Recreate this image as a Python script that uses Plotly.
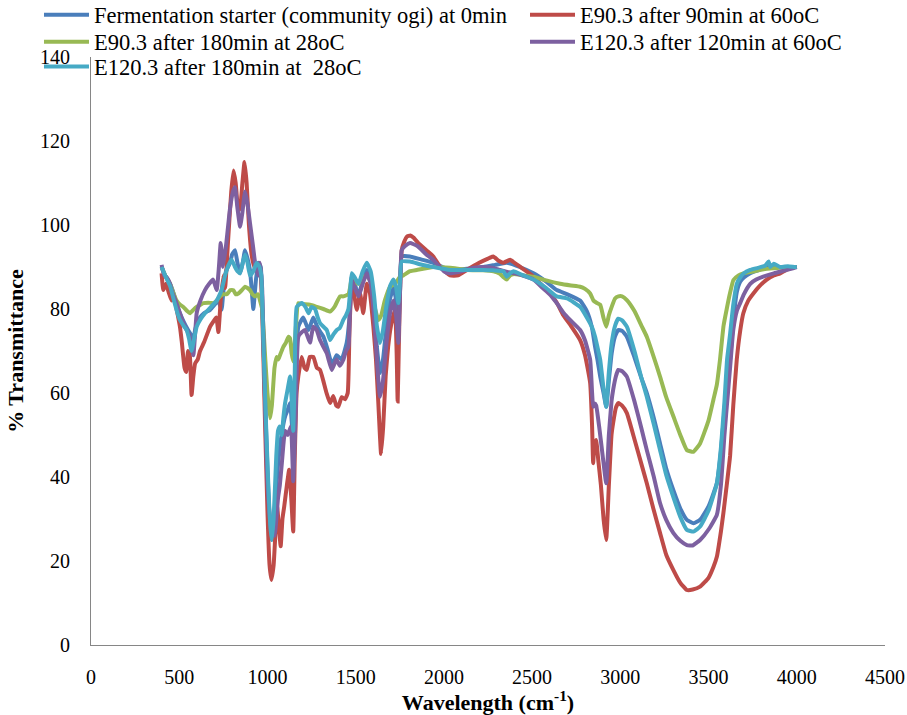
import plotly.graph_objects as go

# ---------------- data ----------------
series_names = [
    "Fermentation starter (community ogi) at 0min",
    "E90.3 after 90min at 60oC",
    "E90.3 after 180min at 28oC",
    "E120.3 after 120min at 60oC",
    "E120.3 after 180min at  28oC",
]

wn_blue = [400, 420, 448, 470, 485, 504, 525, 550, 565, 578, 590, 605, 618, 640, 675, 700, 720, 730, 740, 750, 765, 788, 800, 816, 830, 845, 860, 873, 887, 901, 910, 920, 935, 949, 962, 972, 985, 1000, 1012, 1024, 1040, 1060, 1080, 1100, 1115, 1128, 1138, 1146, 1158, 1175, 1203, 1233, 1260, 1280, 1300, 1317, 1340, 1364, 1380, 1392, 1420, 1449, 1465, 1478, 1495, 1516, 1540, 1563, 1585, 1605, 1620, 1638, 1655, 1675, 1695, 1714, 1730, 1742, 1752, 1761, 1808, 1870, 1940, 2035, 2130, 2224, 2290, 2356, 2430, 2508, 2580, 2640, 2700, 2772, 2810, 2838, 2857, 2870, 2886, 2905, 2920, 2935, 2951, 2970, 2988, 3010, 3037, 3080, 3120, 3150, 3190, 3225, 3260, 3300, 3340, 3377, 3415, 3452, 3500, 3547, 3570, 3590, 3605, 3622, 3640, 3660, 3679, 3700, 3736, 3780, 3830, 3900, 3990, 4000]
tr_blue = [90, 88, 86, 83.5, 81, 79, 77, 75, 74, 72, 75, 77, 78, 79, 79.8, 81, 82, 81, 79.8, 84, 89, 91, 93, 94, 91, 88.5, 91, 94, 92, 89.3, 85, 80, 87, 91, 90, 80, 60, 42, 30, 25, 32, 43, 50, 54.4, 56, 57.6, 53, 47.2, 62, 75.8, 78, 75, 78, 76, 74.5, 73.4, 70.5, 67, 68, 69, 68, 71.9, 78, 87.7, 86, 83, 87, 89.3, 87.5, 80, 71, 64.7, 68, 76, 82.5, 85, 82, 75.8, 85, 92.5, 92.5, 91.8, 91, 89.3, 89.6, 90, 90.5, 91, 90, 88.5, 86.5, 84.5, 83.5, 82, 79.5, 75.8, 71, 68, 63.9, 60, 56.7, 63, 69.5, 73.5, 75, 74.8, 73.4, 68.5, 63.5, 60, 54, 48, 42, 36.9, 32.5, 29.8, 29, 29.8, 33, 38.5, 46, 56, 63, 68, 77, 84, 86.5, 87.5, 88.5, 89.2, 90, 90, 90, 90]

wn_red = [400, 410, 425, 440, 457, 470, 485, 504, 515, 530, 540, 550, 560, 570, 580, 590, 605, 618, 640, 675, 693, 710, 722, 735, 750, 760, 775, 795, 808, 820, 835, 845, 858, 870, 882, 895, 910, 925, 940, 958, 970, 985, 1000, 1012, 1022, 1035, 1047, 1055, 1065, 1075, 1085, 1095, 1110, 1123, 1135, 1146, 1155, 1165, 1175, 1194, 1210, 1223, 1240, 1260, 1280, 1298, 1316, 1335, 1355, 1373, 1390, 1401, 1421, 1440, 1455, 1465, 1478, 1490, 1506, 1525, 1543, 1563, 1580, 1600, 1615, 1628, 1644, 1656, 1670, 1684, 1700, 1723, 1732, 1738, 1745, 1752, 1761, 1775, 1790, 1810, 1827, 1860, 1900, 1940, 1980, 2035, 2080, 2130, 2200, 2250, 2280, 2310, 2336, 2375, 2400, 2450, 2508, 2560, 2603, 2640, 2677, 2720, 2772, 2800, 2829, 2840, 2846, 2852, 2863, 2875, 2890, 2905, 2920, 2935, 2950, 2959, 2975, 2988, 3010, 3037, 3080, 3120, 3150, 3190, 3225, 3260, 3300, 3340, 3377, 3410, 3452, 3500, 3527, 3547, 3570, 3584, 3600, 3622, 3640, 3660, 3680, 3697, 3725, 3754, 3790, 3830, 3870, 3906, 3950, 3991, 4000]
tr_red = [88.5, 84.5, 86, 84, 82, 83, 80, 75.8, 72, 66, 65, 70, 69, 59.5, 64, 67, 68, 70, 72, 75.8, 77, 78, 74.5, 82, 88, 85, 95, 108, 113, 110, 103.5, 104, 110, 115, 110, 100, 93, 90, 91, 90, 80, 55, 32, 19, 15.5, 19, 28, 33, 28, 23.5, 30, 33, 38, 41.7, 35, 27, 45, 60, 64, 68.6, 66, 65.5, 68.6, 68.6, 66, 65.5, 63, 60, 57.6, 59.3, 57, 56.7, 59, 58.5, 60, 75, 87, 84, 79.8, 83.7, 79, 86, 84, 76, 68, 58, 45.5, 52, 64, 71, 76, 79.8, 70, 58, 72, 85, 94, 96, 97.2, 97.5, 97, 95.5, 94, 92.5, 90, 88, 88, 89.3, 91, 92, 92.5, 91.5, 91, 91.7, 91, 89.5, 87.7, 85.5, 83.7, 81.5, 78.5, 76, 72.6, 69, 62.4, 52, 43.3, 47, 48.8, 44, 38, 30, 25, 38, 50, 52.8, 56.5, 57.6, 57, 55.2, 49, 43, 38.5, 32, 26.7, 21.5, 17.9, 14.8, 13.1, 13.2, 13.9, 16, 18.5, 21, 27, 31.4, 37, 45, 57, 68, 75, 79, 82, 83.7, 85.5, 87, 88, 88.5, 89.5, 90, 90]

wn_green = [400, 420, 448, 465, 485, 505, 523, 545, 561, 580, 599, 620, 637, 665, 693, 712, 731, 750, 769, 790, 807, 820, 835, 855, 873, 887, 901, 915, 930, 947, 958, 970, 985, 1000, 1015, 1025, 1040, 1052, 1062, 1071, 1090, 1105, 1119, 1128, 1137, 1147, 1160, 1175, 1200, 1241, 1280, 1317, 1355, 1380, 1411, 1430, 1459, 1468, 1478, 1495, 1516, 1540, 1563, 1585, 1605, 1629, 1645, 1665, 1695, 1723, 1752, 1770, 1808, 1846, 1940, 2035, 2130, 2220, 2281, 2318, 2340, 2356, 2375, 2394, 2450, 2508, 2580, 2659, 2720, 2772, 2800, 2829, 2848, 2865, 2886, 2904, 2920, 2935, 2951, 2970, 2989, 3010, 3037, 3080, 3120, 3150, 3190, 3225, 3260, 3301, 3340, 3377, 3414, 3452, 3500, 3528, 3547, 3565, 3585, 3603, 3620, 3641, 3670, 3698, 3760, 3830, 3900, 3990, 4000]
tr_green = [90, 88, 86, 84, 82, 81, 80.5, 79.5, 79, 79.8, 80.5, 81, 81.4, 81.5, 81.4, 82, 83, 83.5, 83.5, 84.5, 84.5, 83.5, 83.7, 84.5, 85.3, 85, 84.5, 83.5, 83, 83.5, 82, 80, 70, 60, 54, 57, 66, 68.6, 68, 69, 71, 72, 73.4, 73, 69.5, 67.5, 75, 81.4, 81.2, 81, 80.5, 80, 79.4, 80.5, 83, 83, 83.5, 85, 87.3, 86.5, 86, 87.5, 88, 86.5, 81, 77.4, 78.5, 82, 85.3, 86, 87.7, 88, 89, 89.3, 90, 89.8, 89.3, 89.2, 89, 88.4, 87.5, 87, 88, 88.3, 88, 87.7, 86.8, 86, 85.6, 85.3, 84.8, 83.7, 82, 81.5, 81, 78, 75.8, 78.5, 80.5, 82.5, 83, 83, 82.1, 79.5, 76, 73.4, 68.5, 63.9, 59, 54.4, 50, 46.4, 46, 48, 53.5, 58.5, 62, 68, 76, 80, 83.5, 86.9, 88, 88.5, 89, 89.6, 89.8, 90, 90]

wn_purple = [400, 415, 430, 448, 460, 480, 504, 520, 542, 555, 570, 580, 590, 599, 620, 646, 670, 692, 712, 725, 735, 742, 748, 765, 788, 805, 816, 830, 845, 858, 873, 887, 901, 918, 930, 947, 958, 970, 985, 996, 1010, 1024, 1040, 1060, 1070, 1081, 1100, 1115, 1133, 1146, 1160, 1175, 1195, 1213, 1241, 1260, 1279, 1298, 1317, 1336, 1364, 1380, 1392, 1410, 1430, 1445, 1459, 1468, 1478, 1495, 1516, 1540, 1563, 1585, 1605, 1620, 1638, 1655, 1675, 1695, 1714, 1730, 1742, 1752, 1761, 1780, 1808, 1850, 1900, 1940, 2000, 2035, 2100, 2170, 2224, 2280, 2318, 2360, 2400, 2460, 2508, 2560, 2600, 2640, 2680, 2715, 2772, 2800, 2829, 2840, 2846, 2855, 2863, 2880, 2900, 2920, 2935, 2950, 2959, 2975, 2988, 3010, 3037, 3080, 3120, 3150, 3190, 3225, 3260, 3300, 3340, 3377, 3410, 3452, 3500, 3547, 3570, 3590, 3610, 3622, 3640, 3660, 3679, 3700, 3736, 3770, 3810, 3870, 3943, 4000]
tr_purple = [90.5, 88, 87.5, 86, 84, 82, 79, 77, 75, 74, 71, 69, 74, 79, 82, 84.5, 86, 87, 84.5, 90, 95.7, 93, 90, 95, 104, 108, 109, 104, 99.6, 103, 108, 105, 100.5, 95, 91, 88, 91, 85, 60, 43, 32, 27, 26, 35, 38, 43, 51, 50, 52, 39, 55, 73.4, 74.5, 75, 72, 75.8, 75, 72.6, 71, 69.5, 65.5, 67, 68, 66.5, 67.9, 70, 71, 80, 87, 85, 83, 86, 88.5, 86, 78, 68, 59.1, 63, 72, 79, 82, 78, 71.9, 85, 94, 95, 95.7, 95, 93, 91.7, 89, 88.5, 89, 89.8, 90, 89.8, 89.3, 88.8, 88.5, 87.8, 87, 85, 83.5, 81.4, 79, 77.4, 75, 72.5, 67.9, 60, 56.7, 57.5, 57, 52, 45, 38.5, 50, 58, 60.7, 64, 65.5, 65.2, 63.9, 58, 51.5, 46.4, 40, 33.8, 29.8, 26.7, 24.8, 23.8, 23.7, 25, 27.5, 31, 38, 50, 60, 66, 75, 79.5, 81.4, 83.5, 86, 87, 87.7, 88.5, 89.3, 90]

wn_cyan = [400, 420, 448, 470, 490, 504, 525, 542, 555, 570, 585, 599, 620, 646, 680, 712, 730, 740, 760, 780, 797, 816, 830, 845, 860, 873, 887, 901, 920, 939, 955, 965, 975, 990, 1005, 1015, 1024, 1035, 1050, 1060, 1070, 1081, 1090, 1100, 1115, 1128, 1138, 1146, 1155, 1166, 1194, 1215, 1233, 1250, 1270, 1285, 1300, 1336, 1355, 1375, 1393, 1410, 1430, 1445, 1459, 1468, 1478, 1495, 1516, 1540, 1563, 1585, 1605, 1620, 1638, 1655, 1675, 1695, 1714, 1730, 1742, 1752, 1761, 1808, 1870, 1940, 2035, 2130, 2224, 2280, 2337, 2356, 2375, 2394, 2450, 2508, 2580, 2640, 2700, 2772, 2810, 2838, 2857, 2870, 2886, 2905, 2920, 2935, 2951, 2970, 2988, 3010, 3037, 3080, 3120, 3150, 3190, 3225, 3260, 3300, 3340, 3377, 3415, 3452, 3500, 3547, 3570, 3590, 3605, 3622, 3640, 3660, 3679, 3700, 3736, 3780, 3820, 3840, 3850, 3870, 3905, 3950, 3990, 4000]
tr_cyan = [90, 88, 85.5, 82, 79, 77.4, 76, 75, 73, 70, 73, 75.8, 77.5, 79, 80.5, 82, 83.5, 84.5, 88, 90.5, 91.7, 90, 89, 88.5, 91, 93, 91, 88, 89, 91, 90, 88, 75, 55, 38, 29, 25, 30, 45, 51, 52, 50, 54, 57.6, 61, 63.9, 58, 51, 65, 80.5, 81.4, 80.5, 79, 80.5, 80, 78, 76.5, 75, 72.6, 74, 75, 75.5, 77.4, 78.5, 80, 84, 88.5, 87.5, 86, 89, 91, 89, 83, 76, 71.9, 75, 81, 85.5, 87, 85, 81.4, 87, 91.3, 91.3, 90.6, 90, 89.3, 89.3, 89.3, 89.2, 89, 87.7, 88.5, 89, 88, 87, 85, 83, 82.5, 80.5, 78, 75.8, 73.4, 71, 67.9, 61, 56.7, 65, 71.9, 76, 77.7, 77.3, 75.8, 70, 63.5, 59.1, 52.5, 46.4, 40.5, 35.3, 30.5, 27.4, 27, 28.2, 32, 38.5, 47, 58, 68, 74, 81, 86, 87.5, 88.5, 89.3, 89.8, 90.3, 91.3, 90, 90.8, 90, 90.2, 90, 90]

x_ticks = [0, 500, 1000, 1500, 2000, 2500, 3000, 3500, 4000, 4500]
y_ticks = [0, 20, 40, 60, 80, 100, 120, 140]

colors = ["#4A7EBB", "#BE4B48", "#98B954", "#7D60A0", "#46AAC5"]
series_x = [wn_blue, wn_red, wn_green, wn_purple, wn_cyan]
series_y = [tr_blue, tr_red, tr_green, tr_purple, tr_cyan]
legend_ids = ["legend", "legend2", "legend3", "legend4", "legend5"]
# legend entry placement (paper fractions): two columns, three rows
legend_pos = [(-0.0655, 1.0714), (0.5466, 1.0714), (-0.0655, 1.0255), (0.5466, 1.0255), (-0.0655, 0.983)]

FONT = "Liberation Serif, Times New Roman, serif"
W, H = 907, 715

fig = go.Figure()
for name, xs, ys, col, lg in zip(series_names, series_x, series_y, colors, legend_ids):
    fig.add_trace(go.Scatter(
        x=xs, y=ys, mode="lines", name=name,
        line=dict(color=col, width=4, shape="spline", smoothing=0.4),
        legend=lg,
    ))

legends = {}
for lg, (lx, ly) in zip(legend_ids, legend_pos):
    legends[lg] = dict(
        xref="paper", yref="paper", x=lx, y=ly,
        xanchor="left", yanchor="middle",
        bgcolor="rgba(0,0,0,0)",
        font=dict(family=FONT, size=22.5, color="black"),
        itemwidth=45,
    )

fig.update_layout(
    width=W, height=H,
    margin=dict(l=91, r=22, t=57, b=70, autoexpand=False),
    paper_bgcolor="white", plot_bgcolor="white",
    font=dict(family=FONT, color="black"),
    showlegend=True,
    xaxis=dict(
        range=[0, 4500], tickvals=x_ticks, ticktext=[str(v) for v in x_ticks],
        showline=True, linecolor="#868686", linewidth=1, mirror=False,
        showgrid=False, zeroline=False, ticks="", ticklabelstandoff=14,
        tickfont=dict(family=FONT, size=20, color="black"),
        title=dict(text="<b>Wavelength (cm<sup>-1</sup>)</b>",
                   font=dict(family=FONT, size=22, color="black"), standoff=6),
        automargin=False,
    ),
    yaxis=dict(
        range=[0, 140], tickvals=y_ticks, ticktext=[str(v) for v in y_ticks],
        showline=True, linecolor="#868686", linewidth=1,
        showgrid=False, zeroline=False, ticks="", ticklabelstandoff=16,
        tickfont=dict(family=FONT, size=20, color="black"),
        title=dict(text="<b>% Transmittance</b>",
                   font=dict(family=FONT, size=22, color="black"), standoff=10),
        automargin=False,
    ),
    **legends,
)

fig.write_html(
    "out.html",
    config={"displayModeBar": False},
    post_script="document.body.style.margin='0';document.body.style.overflow='hidden';",
)
